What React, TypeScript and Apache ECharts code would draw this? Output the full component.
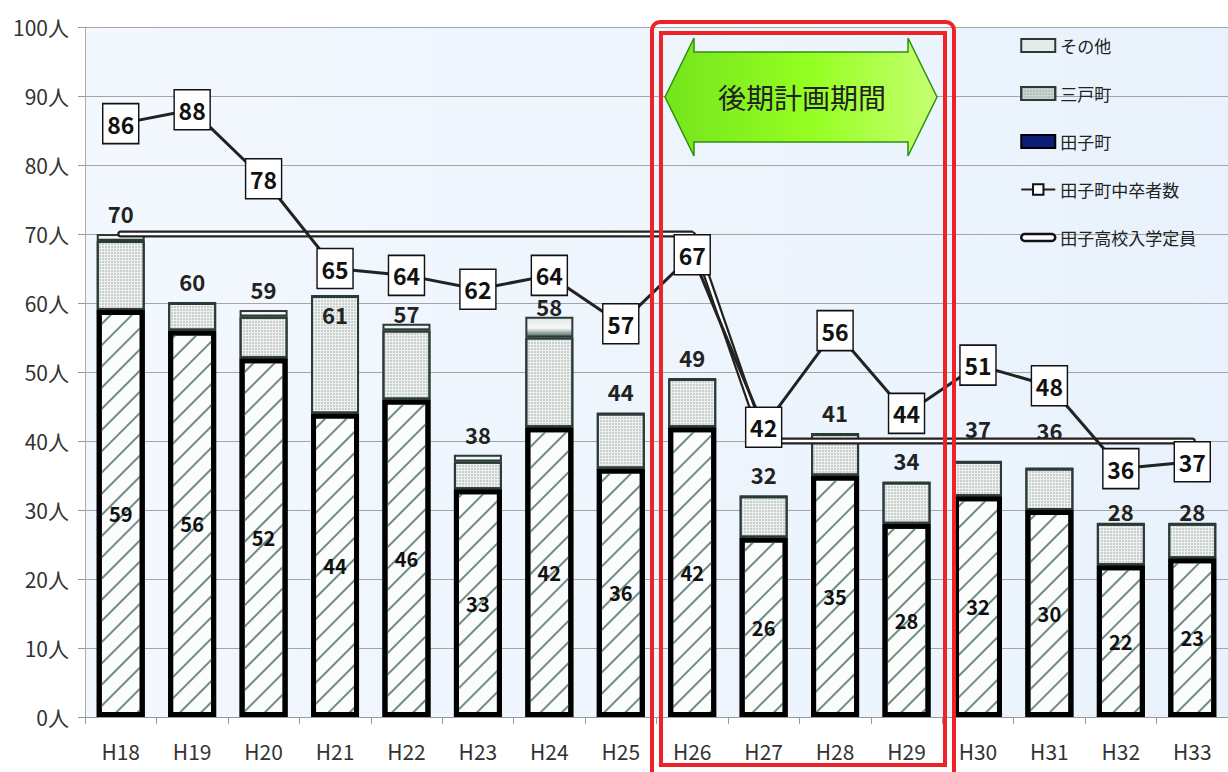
import React, { useEffect, useRef } from "react";
import * as echarts from "echarts";

const categories = ["H18", "H19", "H20", "H21", "H22", "H23", "H24", "H25", "H26", "H27", "H28", "H29", "H30", "H31", "H32", "H33"];
const tagoValues = [59, 56, 52, 44, 46, 33, 42, 36, 42, 26, 35, 28, 32, 30, 22, 23];
const sannoheValues = [10, 4, 6, 17, 10, 4, 13, 8, 7, 6, 6, 6, 5, 6, 6, 5];
const otherValues = [1, 0, 1, 0, 1, 1, 3, 0, 0, 0, 0, 0, 0, 0, 0, 0];
const totalValues = [70, 60, 59, 61, 57, 38, 58, 44, 49, 32, 41, 34, 37, 36, 28, 28];
const graduateValues = [86, 88, 78, 65, 64, 62, 64, 57, 67, 42, 56, 44, 51, 48, 36, 37];
const capacityValues = [70, 70, 70, 70, 70, 70, 70, 70, 70, 40, 40, 40, 40, 40, 40, 40];
const periodLabel = "後期計画期間";

// label placement tweaks for the total labels (style, not data)
const totalLabelStyle: Record<string, any> = {
  H21: { position: "insideTop", distance: 8 },
  H22: { distance: 0 },
  H24: { distance: 0 },
  H30: { distance: 22 },
  H31: { distance: 27 },
  H32: { distance: 1 },
  H33: { distance: 1 },
};

const FONT = "'Noto Sans CJK JP', 'Noto Sans', sans-serif";

export default function App() {
  const ref = useRef<HTMLDivElement>(null);
  useEffect(() => {
    document.body.style.margin = "0";
    if (!ref.current) return;
    const chart = echarts.init(ref.current, null, { renderer: "svg" });
    const otherData = otherValues.map((v, i) => {
      const s = totalLabelStyle[categories[i]];
      return s ? { value: v, label: s } : v;
    });
    chart.setOption({
      animation: false,
      textStyle: { fontFamily: FONT },
      grid: {
        left: 85,
        right: -14,
        top: 27,
        bottom: 55,
        show: true,
        backgroundColor: new echarts.graphic.LinearGradient(0, 0, 1, 0, [
          { offset: 0, color: "#f3f8fe" },
          { offset: 1, color: "#e9f2fc" },
        ]),
        borderWidth: 0,
      },
      legend: {
        orient: "vertical",
        left: 1015,
        top: 32,
        itemWidth: 34,
        itemHeight: 13,
        itemGap: 31,
        textStyle: { fontSize: 17, color: "#222", fontFamily: FONT },
        data: [
          { name: "その他", icon: "rect", itemStyle: { color: "#e4ebe8", borderColor: "#2a3a36", borderWidth: 2 } },
          { name: "三戸町", icon: "rect", itemStyle: { color: "#cdd6d3", borderColor: "#2a3a36", borderWidth: 2 } },
          { name: "田子町", icon: "rect", itemStyle: { color: "#0b1f7a", borderColor: "#000", borderWidth: 2, decal: "none" } },
          { name: "田子町中卒者数" },
          {
            name: "田子高校入学定員",
            icon: "path://M4,0 H36 A4,4 0 0 1 36,8 H4 A4,4 0 0 1 4,0 Z",
            itemStyle: { color: "#fff", borderColor: "#111", borderWidth: 2.5 },
          },
        ],
      },
      xAxis: {
        type: "category",
        data: categories,
        axisLine: { lineStyle: { color: "#999" } },
        axisTick: { show: true, length: 7, lineStyle: { color: "#999" } },
        axisLabel: { fontSize: 21, color: "#333", margin: 23, fontFamily: FONT },
      },
      yAxis: {
        type: "value",
        min: 0,
        max: 100,
        interval: 10,
        axisLine: { show: true, lineStyle: { color: "#aaa" } },
        axisTick: { show: true, length: 7, lineStyle: { color: "#999" } },
        axisLabel: { fontSize: 21, color: "#333", margin: 16, formatter: "{value}人", fontFamily: FONT },
        splitLine: { lineStyle: { color: "#a5a5a5" } },
      },
      series: [
        {
          name: "田子町",
          type: "bar",
          stack: "s",
          barWidth: 48,
          data: tagoValues,
          itemStyle: {
            color: "#fbfdfd",
            borderColor: "#000",
            borderWidth: 5,
            decal: {
              symbol: "rect",
              symbolSize: 1,
              dashArrayX: [1, 0],
              dashArrayY: [1.1, 13],
              rotation: -Math.PI / 4,
              color: "#6f8c85",
            },
          },
          label: { show: true, position: "inside", fontSize: 20, fontWeight: "bold", color: "#111" },
          z: 2,
        },
        {
          name: "三戸町",
          type: "bar",
          stack: "s",
          barWidth: 48,
          data: sannoheValues,
          itemStyle: {
            color: "#eef1f0",
            borderColor: "#2a3a36",
            borderWidth: 2,
            decal: {
              symbol: "circle",
              symbolSize: 0.7,
              dashArrayX: [2, 1],
              dashArrayY: [2, 1],
              color: "#8d9b97",
            },
          },
          z: 2,
        },
        {
          name: "その他",
          type: "bar",
          stack: "s",
          barWidth: 48,
          data: otherData,
          itemStyle: {
            color: new echarts.graphic.LinearGradient(0, 0, 0, 1, [
              { offset: 0, color: "#dfe6e3" },
              { offset: 0.55, color: "#f7f9f8" },
              { offset: 1, color: "#4f6762" },
            ]),
            borderColor: "#2a3a36",
            borderWidth: 2,
          },
          label: {
            show: true,
            position: "top",
            distance: 10,
            fontSize: 22,
            fontWeight: "bold",
            color: "#222",
            formatter: (p: any) => String(totalValues[p.dataIndex]),
          },
          z: 2,
        },
        {
          name: "田子高校入学定員",
          type: "line",
          data: capacityValues,
          symbol: "none",
          lineStyle: { color: "#222", width: 7, cap: "round" },
          itemStyle: { color: "#222" },
          z: 4,
        },
        {
          name: "田子高校入学定員",
          type: "line",
          data: capacityValues,
          symbol: "none",
          lineStyle: { color: "#ffffff", width: 2.5, cap: "round" },
          itemStyle: { color: "#fff" },
          z: 5,
        },
        {
          name: "田子町中卒者数",
          type: "line",
          data: graduateValues,
          symbol: "rect",
          symbolSize: [36, 40],
          lineStyle: { color: "#222", width: 3 },
          itemStyle: { color: "#ffffff", borderColor: "#111", borderWidth: 1.5 },
          label: { show: true, position: "inside", fontSize: 23, fontWeight: "bold", color: "#111" },
          z: 6,
        },
      ],
      graphic: [
        {
          type: "rect",
          z: 100,
          shape: { x: 652, y: 22, width: 302, height: 790, r: 8 },
          style: { fill: "none", stroke: "#ee2328", lineWidth: 4 },
        },
        {
          type: "rect",
          z: 100,
          shape: { x: 661, y: 33, width: 284, height: 732 },
          style: { fill: "none", stroke: "#ee2328", lineWidth: 4 },
        },
        {
          type: "polygon",
          z: 101,
          shape: {
            points: [
              [665, 97], [694, 38], [694, 52], [908, 52], [908, 38],
              [937, 97], [908, 156], [908, 142], [694, 142], [694, 156],
            ],
          },
          style: {
            fill: new echarts.graphic.LinearGradient(0, 0, 1, 0, [
              { offset: 0, color: "#74e41c" },
              { offset: 0.55, color: "#96ff22" },
              { offset: 1, color: "#c6ff72" },
            ]),
            stroke: "#2f8f12",
            lineWidth: 1.5,
          },
        },
        {
          type: "text",
          z: 102,
          x: 802,
          y: 97,
          style: {
            text: periodLabel,
            fontSize: 28,
            fontFamily: FONT,
            fill: "#222",
            align: "center",
            verticalAlign: "middle",
          },
        },
      ],
    });
    return () => chart.dispose();
  }, []);
  return <div ref={ref} style={{ width: 1228, height: 772 }} />;
}
